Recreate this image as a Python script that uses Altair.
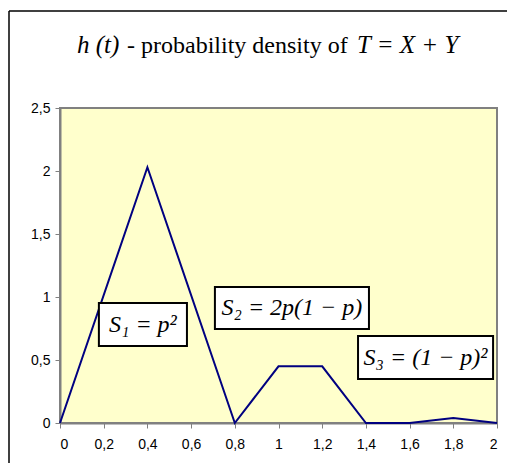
import altair as alt
import pandas as pd

t_vals = [0, 0.4, 0.8, 1.0, 1.2, 1.4, 1.6, 1.8, 2.0]
h_vals = [0, 2.03, 0, 0.45, 0.45, 0, 0, 0.04, 0]

box_labels = ["S₁ = p²", "S₂ = 2p(1 − p)", "S₃ = (1 − p)²"]
box_x1 = [0.178, 0.709, 1.364]
box_x2 = [0.581, 1.414, 1.982]
box_y1 = [0.611, 0.746, 0.349]
box_y2 = [0.952, 1.079, 0.690]

x_ticks = [0, 0.2, 0.4, 0.6, 0.8, 1.0, 1.2, 1.4, 1.6, 1.8, 2.0]
y_ticks = [0, 0.5, 1.0, 1.5, 2.0, 2.5]

title_parts = ["h (t)", "- probability density of", "T = X + Y"]

SERIF = "Liberation Serif, Times New Roman, Times, serif"

line_df = pd.DataFrame({"t": t_vals, "h": h_vals})
box_df = pd.DataFrame({
    "label": box_labels,
    "x1": box_x1, "x2": box_x2, "y1": box_y1, "y2": box_y2,
})
box_df["xm"] = (box_df["x1"] + box_df["x2"]) / 2
box_df["ym"] = (box_df["y1"] + box_df["y2"]) / 2

label_expr = "replace(format(datum.value, '.1~f'), '.', ',')"

xscale = alt.Scale(domain=[0, 2], nice=False, zero=False)
yscale = alt.Scale(domain=[0, 2.5], nice=False)

xaxis = alt.Axis(values=x_ticks, labelExpr=label_expr, grid=False, title=None,
                 domainColor="#808080", domainWidth=2, tickColor="#808080",
                 tickSize=5, labelFont="Liberation Sans", labelFontSize=14,
                 labelColor="black", labelPadding=9)
yaxis = alt.Axis(values=y_ticks, labelExpr=label_expr, grid=False, title=None,
                 domainColor="#808080", domainWidth=2, tickColor="#808080",
                 tickSize=5, labelFont="Liberation Sans", labelFontSize=14,
                 labelColor="black", labelPadding=5)

line = alt.Chart(line_df).mark_line(color="#000080", strokeWidth=2).encode(
    x=alt.X("t:Q", scale=xscale, axis=xaxis),
    y=alt.Y("h:Q", scale=yscale, axis=yaxis),
)

boxes = alt.Chart(box_df).mark_rect(fill="white", stroke="black", strokeWidth=2).encode(
    x=alt.X("x1:Q", scale=xscale), x2="x2:Q",
    y=alt.Y("y1:Q", scale=yscale), y2="y2:Q",
)

texts = alt.Chart(box_df).mark_text(font=SERIF, fontStyle="italic",
                                    fontSize=24, color="black", baseline="middle",
                                    align="center").encode(
    x=alt.X("xm:Q", scale=xscale),
    y=alt.Y("ym:Q", scale=yscale),
    text="label:N",
)

frame = pd.DataFrame({"a": [0]})
left_border = alt.Chart(frame).mark_rule(color="black", strokeWidth=1.5).encode(
    x=alt.value(-51), y=alt.value(-97), y2=alt.value(370))
top_border = alt.Chart(frame).mark_rule(color="black", strokeWidth=1.5).encode(
    x=alt.value(-51), x2=alt.value(470), y=alt.value(-97))

def title_piece(text, xpos, italic, size):
    kw = dict(font=SERIF, fontSize=size, color="black",
              align="left", baseline="alphabetic", text=text,
              fontStyle="italic" if italic else "normal")
    return alt.Chart(frame).mark_text(**kw).encode(x=alt.value(xpos), y=alt.value(-55))

t1 = title_piece(title_parts[0], 17, True, 25)
t2 = title_piece(title_parts[1], 67, False, 24)
t3 = title_piece(title_parts[2], 297, True, 25)

chart = alt.layer(line, boxes, texts, left_border, top_border, t1, t2, t3).properties(
    width=437, height=315,
    padding={"left": 52, "top": 100, "right": 10, "bottom": 40},
    autosize=alt.AutoSizeParams(type="none"),
    background="white",
).configure_view(fill="#FFFFCC", stroke="#808080", strokeWidth=2)

chart.save("out.html", embed_options={"renderer": "svg", "actions": False})
